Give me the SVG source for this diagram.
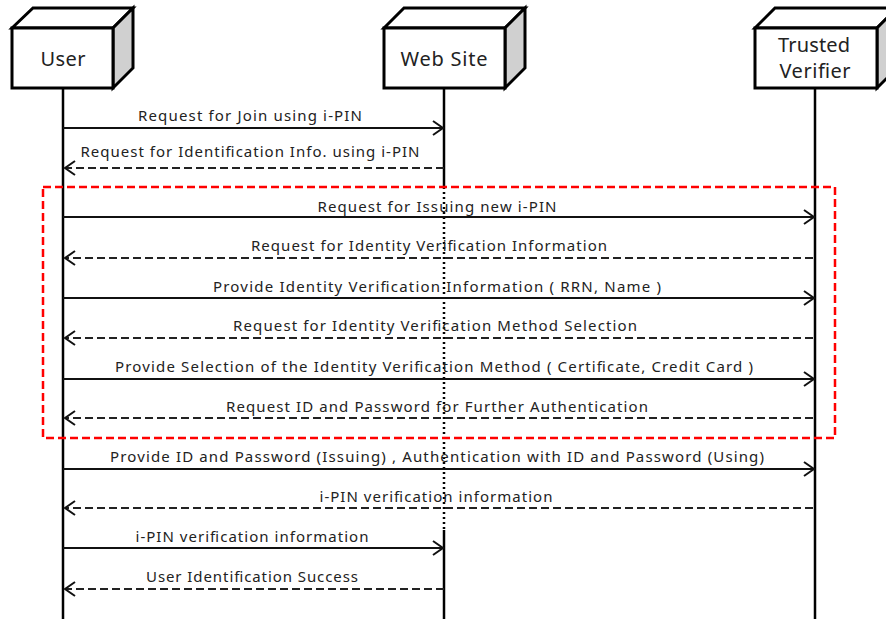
<svg xmlns="http://www.w3.org/2000/svg" width="886" height="619" viewBox="0 0 886 619">
<style>
.box{fill:#fff;stroke:#000;stroke-width:3;stroke-linejoin:miter}
.side{fill:#d0d0d0;stroke:#000;stroke-width:3}
.title{font-family:"Noto Sans","Liberation Sans",Arial,sans-serif;font-size:20px;fill:#222;text-anchor:middle}
.lbl{font-family:"Noto Sans","Liberation Sans",Arial,sans-serif;font-size:15px;fill:#222;text-anchor:middle}
.life{stroke:#000;stroke-width:2.5;fill:none}
.sync{stroke:#111;stroke-width:2;fill:none}
.ret{stroke:#222;stroke-width:2;fill:none;stroke-dasharray:8 4}
.head{stroke:#111;stroke-width:2;fill:none}
</style>
<rect width="886" height="619" fill="#fff"/>
<g id="lifelines">
<line class="life" x1="63" y1="88" x2="63" y2="619"/>
<line class="life" x1="444" y1="88" x2="444" y2="187"/>
<line class="life" x1="444" y1="187" x2="444" y2="530" stroke-dasharray="2 3"/>
<line class="life" x1="444" y1="530" x2="444" y2="619"/>
<line class="life" x1="815" y1="88" x2="815" y2="619"/>
</g>
<g id="node-user">
<polygon class="box" points="12,28 33,8 133,8 113,28"/>
<polygon class="side" points="113,28 133,8 133,68 113,88"/>
<rect class="box" x="12" y="28" width="101" height="60"/>
<text class="title" x="63" y="66" textLength="45">User</text>
</g>
<g id="node-website">
<polygon class="box" points="384,28 404,8 525,8 505,28"/>
<polygon class="side" points="505,28 525,8 525,68 505,88"/>
<rect class="box" x="384" y="28" width="121" height="60"/>
<text class="title" x="444" y="66" textLength="87">Web Site</text>
</g>
<g id="node-verifier">
<polygon class="box" points="755,28 775,8 897,8 877,28"/>
<polygon class="side" points="877,28 897,8 897,68 877,88"/>
<rect class="box" x="755" y="28" width="122" height="60"/>
<text class="title" x="814" y="52" textLength="72">Trusted</text>
<text class="title" x="815" y="78" textLength="71">Verifier</text>
</g>
<g id="group-box">
<rect x="43" y="187" width="792" height="251" fill="none" stroke="#f00" stroke-width="2.5" stroke-dasharray="8 4"/>
</g>
<g id="connectors">
<line class="sync" x1="63" y1="128" x2="443" y2="128"/><polyline class="head" points="433,121 443,128 433,135"/>
<text class="lbl" x="250" y="121" textLength="224">Request for Join using i-PIN</text>
<line class="ret" x1="444" y1="168" x2="65" y2="168"/><polyline class="head" points="75,161 65,168 75,175"/>
<text class="lbl" x="250" y="157" textLength="339">Request for Identification Info. using i-PIN</text>

<line class="sync" x1="63" y1="217" x2="814" y2="217"/><polyline class="head" points="804,210 814,217 804,224"/>
<text class="lbl" x="437" y="212" textLength="239">Request for Issuing new i-PIN</text>
<line class="ret" x1="813" y1="258" x2="65" y2="258"/><polyline class="head" points="75,251 65,258 75,265"/>
<text class="lbl" x="429" y="251" textLength="356">Request for Identity Verification Information</text>
<line class="sync" x1="63" y1="298" x2="814" y2="298"/><polyline class="head" points="804,291 814,298 804,305"/>
<text class="lbl" x="437" y="292" textLength="448">Provide Identity Verification Information ( RRN, Name )</text>
<line class="ret" x1="813" y1="338" x2="65" y2="338"/><polyline class="head" points="75,331 65,338 75,345"/>
<text class="lbl" x="435" y="331" textLength="404">Request for Identity Verification Method Selection</text>
<line class="sync" x1="63" y1="379" x2="814" y2="379"/><polyline class="head" points="804,372 814,379 804,386"/>
<text class="lbl" x="434" y="372" textLength="638">Provide Selection of the Identity Verification Method ( Certificate, Credit Card )</text>
<line class="ret" x1="813" y1="418" x2="65" y2="418"/><polyline class="head" points="75,411 65,418 75,425"/>
<text class="lbl" x="437" y="412" textLength="422">Request ID and Password for Further Authentication</text>

<line class="sync" x1="63" y1="469" x2="814" y2="469"/><polyline class="head" points="804,462 814,469 804,476"/>
<text class="lbl" x="437" y="462" textLength="654">Provide ID and Password (Issuing) , Authentication with ID and Password (Using)</text>
<line class="ret" x1="813" y1="508" x2="65" y2="508"/><polyline class="head" points="75,501 65,508 75,515"/>
<text class="lbl" x="436" y="502" textLength="233">i-PIN verification information</text>
<line class="sync" x1="63" y1="548" x2="443" y2="548"/><polyline class="head" points="433,541 443,548 433,555"/>
<text class="lbl" x="252" y="542" textLength="233">i-PIN verification information</text>
<line class="ret" x1="444" y1="589" x2="65" y2="589"/><polyline class="head" points="75,582 65,589 75,596"/>
<text class="lbl" x="252" y="582" textLength="212">User Identification Success</text>
</g>
</svg>
